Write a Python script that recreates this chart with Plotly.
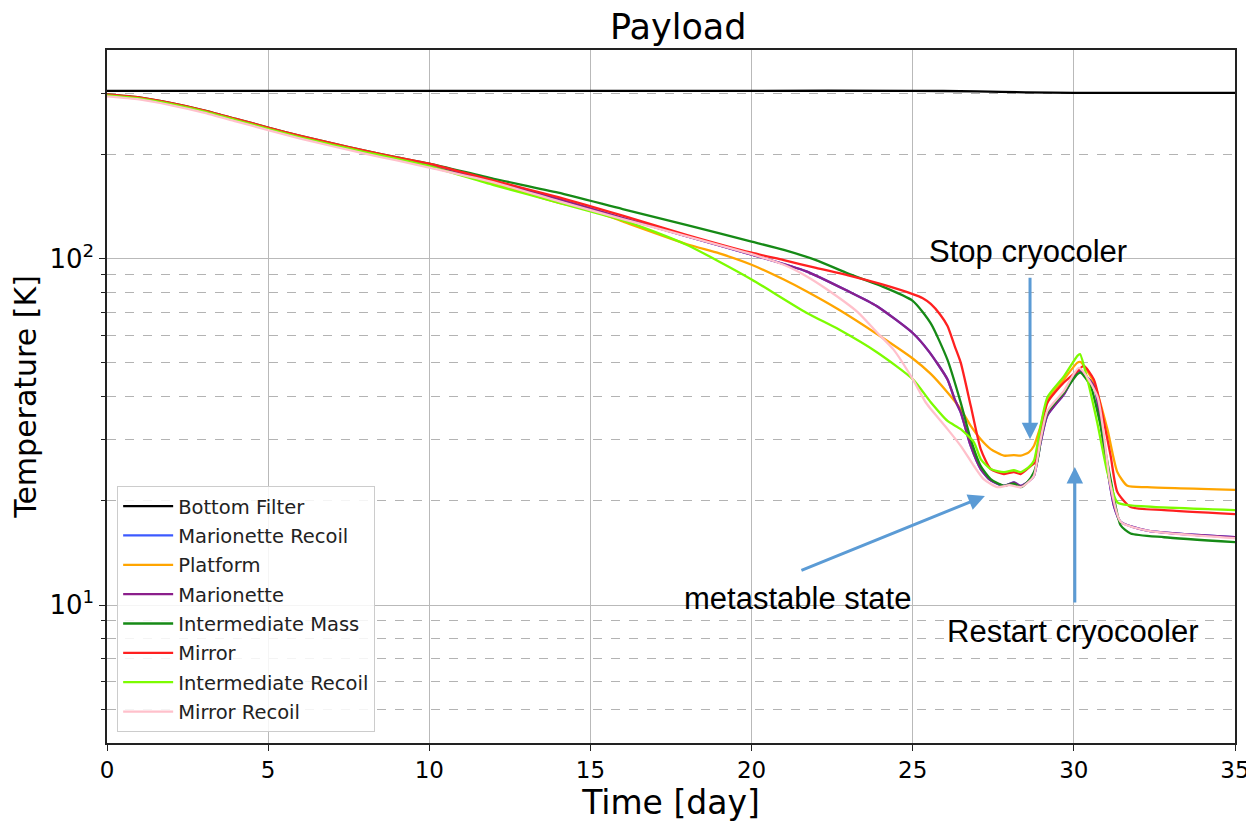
import math
import plotly.graph_objects as go

# ---------------- data ----------------
series_names = ["Bottom Filter", "Marionette Recoil", "Platform", "Marionette",
                "Intermediate Mass", "Mirror", "Intermediate Recoil", "Mirror Recoil"]
series_colors = ["black", "#3c5aff", "#ffa500", "#8b1f8b", "#168a16", "#ff2020", "#7cfc00", "#ffc0cb"]

early_days = [0, 1, 2, 3, 4, 5, 6, 7, 8, 9]

bottom_filter_days = [0, 10, 20, 25, 27, 28.5, 30, 35]
bottom_filter_temp = [305, 305, 305, 305, 304, 302, 301, 301]

platform_days = early_days + [10, 12, 14.06, 15, 16, 18, 19, 20, 21, 21.7, 22.7, 23.9, 25, 25.56, 26.08, 26.49,
                              26.8, 27.11, 27.42, 27.83, 28.14, 28.35, 28.6, 28.76, 28.97, 29.18, 29.69, 30.11,
                              30.21, 30.62, 31.04, 31.35, 31.66, 32.28, 35]
platform_temp = [296, 290, 279, 266, 251, 237, 224, 213, 203, 194, 185, 165, 144.5, 138.3, 128, 110, 103.5, 96,
                 87, 80.5, 71.3, 60.5, 51.5, 46.5, 41.1, 36.8, 32.9, 30.1, 28.2, 27.0, 27.1, 27.0, 27.6, 28.8,
                 32.9, 39.0, 44.8, 50.1, 50.3, 43.9, 32.2, 24.2, 22.1, 21.9, 21.5]

marionette_days = early_days + [10, 12, 14.06, 16, 18, 20, 21.7, 23, 23.88, 25, 25.5, 26.08, 26.3, 26.49, 26.8,
                                27.11, 27.42, 27.83, 28.14, 28.35, 28.6, 28.76, 28.97, 29.18, 29.69, 30.15, 30.62,
                                30.93, 31.24, 31.45, 32.28, 35]
marionette_temp = [297, 291, 280, 267, 252, 238, 225, 214, 204, 195, 185, 167, 148, 131, 116, 102.7, 91.9, 80.5,
                   73.0, 61.0, 54.0, 44.8, 39.3, 36.0, 28.8, 24.7, 22.9, 22.1, 22.6, 22.1, 22.8, 23.6, 29.5,
                   35.3, 40.6, 47.4, 42.9, 28.8, 19.4, 17.4, 16.4, 15.7]
marionette_recoil_days = list(marionette_days)
marionette_recoil_temp = list(marionette_temp)

intermediate_mass_days = early_days + [10, 12, 14, 16, 18, 20, 21, 22, 23, 24, 25, 25.56, 26.08, 26.49, 26.8, 27.11,
                                       27.42, 27.83, 28.14, 28.35, 28.55, 28.76, 28.9, 28.97, 29.18, 29.69, 30.11,
                                       30.21, 30.52, 30.83, 31.14, 31.45, 31.76, 32.8, 35]
intermediate_mass_temp = [298, 292, 281, 268, 253, 239, 226, 215, 205, 196, 188, 170, 155, 139, 125, 112, 106, 99,
                          90.5, 83.5, 75.5, 65, 51, 38.4, 30.1, 25.2, 23.1, 22.1, 22.4, 21.9, 22.6, 24.2, 27.0,
                          30.1, 36.0, 41.1, 46.4, 46.9, 42.9, 32.9, 23.1, 17.0, 16.1, 15.7, 15.2]

mirror_days = early_days + [10, 12, 14.06, 16, 18, 20, 21, 22, 23, 24, 25, 25.3, 25.56, 25.85, 26.08, 26.3, 26.49,
                            26.8, 27.11, 27.42, 27.83, 28.14, 28.35, 28.66, 28.8, 28.97, 29.18, 29.69, 30.11, 30.31,
                            30.62, 30.83, 31.14, 31.35, 31.76, 32.8, 35]
mirror_temp = [298, 292, 281, 268, 253, 239, 226, 215, 205, 196, 188, 168, 150, 133, 117, 104, 99, 94, 89.5, 84.5,
               79, 77, 74, 69.0, 63.9, 56.0, 50.1, 37.6, 28.2, 24.7, 23.9, 24.2, 23.9, 25.2, 25.8, 31.5, 38.4,
               43.9, 47.4, 49.0, 44.8, 37.6, 27.0, 21.2, 19.2, 18.8, 18.3]

intermediate_recoil_days = early_days + [10, 12, 14.06, 15, 16, 17, 18, 19, 20, 21.7, 22.7, 23.9, 25, 25.56, 26.08,
                                         26.49, 26.9, 27.11, 27.42, 27.83, 28.14, 28.35, 28.6, 28.76, 28.97, 29.18,
                                         29.69, 30.11, 30.19, 30.42, 30.73, 31.04, 31.35, 31.76, 35]
intermediate_recoil_temp = [296, 290, 279, 266, 251, 237, 224, 213, 203, 194, 185, 163, 144.5, 136.8, 129, 119.5,
                            109.5, 98, 87.1, 69.8, 62.5, 53.6, 44.9, 38.5, 34.0, 32.2, 29.5, 26.4, 24.7, 24.2, 24.5,
                            24.2, 25.0, 26.1, 32.9, 39.8, 45.7, 52.4, 53.0, 44.8, 33.5, 24.2, 19.8, 19.4, 18.8]

mirror_recoil_days = early_days + [10, 12, 14.06, 16, 18, 20, 21, 21.7, 22.3, 23.3, 23.9, 24.4, 25, 25.4, 25.56,
                                   26.08, 26.49, 26.9, 27.2, 27.63, 28.0, 28.35, 28.6, 28.76, 28.97, 29.18, 29.69,
                                   30.16, 30.73, 31.14, 31.45, 32.28, 35]
mirror_recoil_temp = [294, 288, 277, 264, 249, 235, 222, 211, 201, 192, 183, 166, 146, 130, 116, 103, 96, 89, 82,
                      70, 61.1, 54.7, 44.9, 38.5, 36.8, 32.2, 28.8, 25.2, 23.1, 21.9, 22.2, 21.9, 22.7, 23.6, 30.1,
                      36.4, 41.5, 48.4, 40.0, 22.1, 17.4, 16.4, 15.6]

series_days = [bottom_filter_days, marionette_recoil_days, platform_days, marionette_days,
               intermediate_mass_days, mirror_days, intermediate_recoil_days, mirror_recoil_days]
series_temps = [bottom_filter_temp, marionette_recoil_temp, platform_temp, marionette_temp,
                intermediate_mass_temp, mirror_temp, intermediate_recoil_temp, mirror_recoil_temp]

x_ticks = [0, 5, 10, 15, 20, 25, 30, 35]
y_major_ticks = [10, 100]
y_major_labels = ["10<sup>1</sup>", "10<sup>2</sup>"]
y_minor_ticks = [5, 6, 7, 8, 9, 20, 30, 40, 50, 60, 70, 80, 90, 200, 300]

# ---------------- figure ----------------
fig = go.Figure()
for name, color, xs, ys in zip(series_names, series_colors, series_days, series_temps):
    fig.add_trace(go.Scatter(x=xs, y=ys, mode="lines", name=name,
                             line=dict(color=color, width=2.3, shape="spline", smoothing=0.6),
                             legendgroup=name))

grid_col = "#b9b9b9"

fig.update_xaxes(range=[0, 35], tickvals=x_ticks, showgrid=True, gridcolor=grid_col, gridwidth=1,
                 showline=True, linecolor="#222", linewidth=1.5, mirror=True,
                 ticks="outside", ticklen=6, tickcolor="#222",
                 tickfont=dict(family="DejaVu Sans", size=23, color="black"),
                 title=dict(text="Time [day]", font=dict(family="DejaVu Sans", size=33, color="black"),
                            standoff=2),
                 zeroline=False)
fig.update_yaxes(type="log", range=[math.log10(4), math.log10(400)],
                 tickvals=y_major_ticks, ticktext=y_major_labels,
                 showgrid=True, gridcolor=grid_col, gridwidth=1,
                 showline=True, linecolor="#222", linewidth=1.5, mirror=True,
                 ticks="outside", ticklen=6, tickcolor="#222",
                 tickfont=dict(family="DejaVu Sans", size=26, color="black"),
                 minor=dict(tickvals=y_minor_ticks, showgrid=True, griddash="dash", gridcolor="#b3b3b3",
                            gridwidth=1, ticks="outside", ticklen=4, tickcolor="#222"),
                 title=dict(text="Temperature [K]", font=dict(family="DejaVu Sans", size=30, color="black"),
                            standoff=4),
                 zeroline=False, automargin=False)

arrow_col = "#5b9bd5"
ANN_FONT = dict(family="Liberation Sans", size=31, color="black")
# text labels
fig.add_annotation(x=28.58, y=2.02, xref="x", yref="y", text="Stop cryocoler", showarrow=False, font=ANN_FONT)
fig.add_annotation(x=29.97, y=0.924, xref="x", yref="y", text="Restart cryocooler", showarrow=False, font=ANN_FONT)
fig.add_annotation(x=21.44, y=1.0187, xref="x", yref="y", text="metastable state", showarrow=False, font=ANN_FONT)
# arrows
for (tx, ty, ax, ay) in [(28.64, 1.479, 0, -163), (30.03, 1.3986, 0, 137), (27.24, 1.315, -185, 75)]:
    fig.add_annotation(x=tx, y=ty, xref="x", yref="y", text="", showarrow=True, ax=ax, ay=ay,
                       arrowhead=2, arrowsize=1.1, arrowwidth=3, arrowcolor=arrow_col)

# the page body adds an 8px offset; margins compensate so the plot area sits where the reference has it
fig.update_layout(
    width=1254, height=825,
    margin=dict(l=99, r=27, t=42, b=90),
    paper_bgcolor="white", plot_bgcolor="white",
    title=dict(text="Payload", x=0.5345, xanchor="center", y=0.977, yanchor="middle",
               font=dict(family="DejaVu Sans", size=35, color="black")),
    legend=dict(x=0.009, y=0.016, xanchor="left", yanchor="bottom",
                bgcolor="rgba(255,255,255,0.85)", bordercolor="#cccccc", borderwidth=1,
                font=dict(family="DejaVu Sans", size=19.5, color="#222"), tracegroupgap=1,
                itemwidth=50),
    showlegend=True,
)

fig.write_html("out.html")
